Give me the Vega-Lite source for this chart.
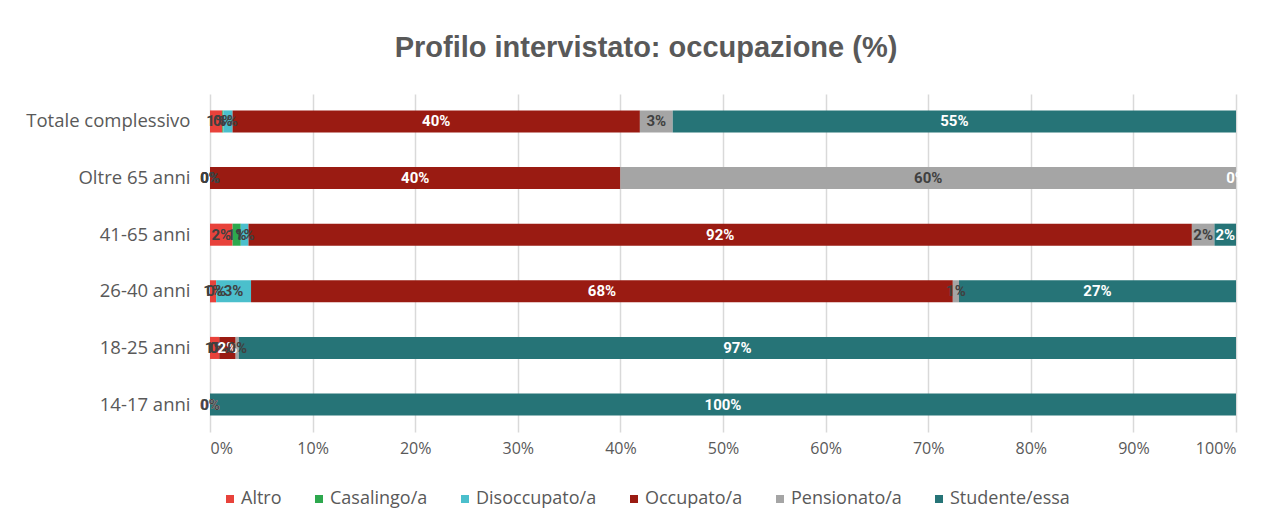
{
  "$schema": "https://vega.github.io/schema/vega-lite/v6.json",
  "width": 1026,
  "height": 338,
  "autosize": {"type": "none"},
  "padding": {"left": 210, "top": 94, "right": 48, "bottom": 98},
  "background": "white",
  "config": {
    "view": {"stroke": null},
    "font": "Open Sans",
    "scale": {"bandPaddingInner": 0.61, "bandPaddingOuter": 0.29}
  },
  "title": {
    "text": "Profilo intervistato: occupazione (%)",
    "font": "Liberation Sans",
    "fontSize": 29,
    "fontWeight": "bold",
    "color": "#595959",
    "anchor": "middle",
    "dx": -77,
    "baseline": "alphabetic",
    "offset": 8
  },
  "data": {
    "values": [
      {"fascia": "Totale complessivo", "occupazione": "Altro", "valore": 0.012},
      {"fascia": "Totale complessivo", "occupazione": "Casalingo/a", "valore": 0.001},
      {"fascia": "Totale complessivo", "occupazione": "Disoccupato/a", "valore": 0.009},
      {"fascia": "Totale complessivo", "occupazione": "Occupato/a", "valore": 0.397},
      {"fascia": "Totale complessivo", "occupazione": "Pensionato/a", "valore": 0.032},
      {"fascia": "Totale complessivo", "occupazione": "Studente/essa", "valore": 0.549},
      {"fascia": "Oltre 65 anni", "occupazione": "Altro", "valore": 0},
      {"fascia": "Oltre 65 anni", "occupazione": "Casalingo/a", "valore": 0},
      {"fascia": "Oltre 65 anni", "occupazione": "Disoccupato/a", "valore": 0},
      {"fascia": "Oltre 65 anni", "occupazione": "Occupato/a", "valore": 0.4},
      {"fascia": "Oltre 65 anni", "occupazione": "Pensionato/a", "valore": 0.6},
      {"fascia": "Oltre 65 anni", "occupazione": "Studente/essa", "valore": 0},
      {"fascia": "41-65 anni", "occupazione": "Altro", "valore": 0.022},
      {"fascia": "41-65 anni", "occupazione": "Casalingo/a", "valore": 0.008},
      {"fascia": "41-65 anni", "occupazione": "Disoccupato/a", "valore": 0.0075},
      {"fascia": "41-65 anni", "occupazione": "Occupato/a", "valore": 0.9195},
      {"fascia": "41-65 anni", "occupazione": "Pensionato/a", "valore": 0.022},
      {"fascia": "41-65 anni", "occupazione": "Studente/essa", "valore": 0.021},
      {"fascia": "26-40 anni", "occupazione": "Altro", "valore": 0.006},
      {"fascia": "26-40 anni", "occupazione": "Casalingo/a", "valore": 0},
      {"fascia": "26-40 anni", "occupazione": "Disoccupato/a", "valore": 0.034},
      {"fascia": "26-40 anni", "occupazione": "Occupato/a", "valore": 0.684},
      {"fascia": "26-40 anni", "occupazione": "Pensionato/a", "valore": 0.006},
      {"fascia": "26-40 anni", "occupazione": "Studente/essa", "valore": 0.27},
      {"fascia": "18-25 anni", "occupazione": "Altro", "valore": 0.009},
      {"fascia": "18-25 anni", "occupazione": "Casalingo/a", "valore": 0},
      {"fascia": "18-25 anni", "occupazione": "Disoccupato/a", "valore": 0},
      {"fascia": "18-25 anni", "occupazione": "Occupato/a", "valore": 0.016},
      {"fascia": "18-25 anni", "occupazione": "Pensionato/a", "valore": 0.003},
      {"fascia": "18-25 anni", "occupazione": "Studente/essa", "valore": 0.972},
      {"fascia": "14-17 anni", "occupazione": "Altro", "valore": 0},
      {"fascia": "14-17 anni", "occupazione": "Casalingo/a", "valore": 0},
      {"fascia": "14-17 anni", "occupazione": "Disoccupato/a", "valore": 0},
      {"fascia": "14-17 anni", "occupazione": "Occupato/a", "valore": 0},
      {"fascia": "14-17 anni", "occupazione": "Pensionato/a", "valore": 0},
      {"fascia": "14-17 anni", "occupazione": "Studente/essa", "valore": 1}
    ]
  },
  "encoding": {
    "y": {
      "field": "fascia",
      "type": "nominal",
      "sort": ["Totale complessivo", "Oltre 65 anni", "41-65 anni", "26-40 anni", "18-25 anni", "14-17 anni"],
      "axis": {
        "title": null,
        "domain": false,
        "ticks": false,
        "labelFont": "Open Sans",
        "labelFontSize": 18.5,
        "labelColor": "#595959",
        "labelPadding": 20
      }
    },
    "x": {
      "field": "valore",
      "type": "quantitative",
      "stack": "zero",
      "scale": {"domain": [0, 1], "nice": false},
      "axis": {
        "title": null,
        "format": ".0%",
        "values": [0, 0.1, 0.2, 0.3, 0.4, 0.5, 0.6, 0.7, 0.8, 0.9, 1],
        "domain": false,
        "ticks": false,
        "grid": true,
        "gridColor": "#D9D9D9",
        "gridWidth": 1.5,
        "labelFont": "Open Sans",
        "labelFontSize": 16,
        "labelColor": "#595959",
        "labelPadding": 8
      }
    },
    "order": {"field": "occupazione", "type": "ordinal", "sort": "ascending"}
  },
  "layer": [
    {
      "mark": {"type": "bar"},
      "encoding": {
        "color": {
          "field": "occupazione",
          "type": "nominal",
          "scale": {
            "domain": ["Altro", "Casalingo/a", "Disoccupato/a", "Occupato/a", "Pensionato/a", "Studente/essa"],
            "range": ["#E8423B", "#2DA84E", "#4BBFCC", "#9A1B12", "#A5A5A5", "#267477"]
          },
          "legend": {
            "title": null,
            "orient": "none",
            "direction": "horizontal",
            "legendX": 11,
            "legendY": 396,
            "symbolType": "square",
            "symbolSize": 64,
            "symbolStrokeWidth": 0,
            "labelFont": "Open Sans",
            "labelFontSize": 18,
            "labelColor": "#595959",
            "labelOffset": 2,
            "columnPadding": 28
          }
        }
      }
    },
    {
      "mark": {"type": "text", "font": "Roboto", "fontWeight": "bold", "fontSize": 15, "baseline": "middle", "align": "center"},
      "encoding": {
        "x": {"field": "valore", "type": "quantitative", "stack": "zero", "bandPosition": 0.5},
        "detail": {"field": "occupazione", "type": "nominal"},
        "text": {"field": "valore", "type": "quantitative", "format": ".0%"},
        "color": {
          "condition": {"test": "datum.occupazione === 'Occupato/a' || datum.occupazione === 'Studente/essa'", "value": "white"},
          "value": "#404040"
        }
      }
    }
  ]
}
